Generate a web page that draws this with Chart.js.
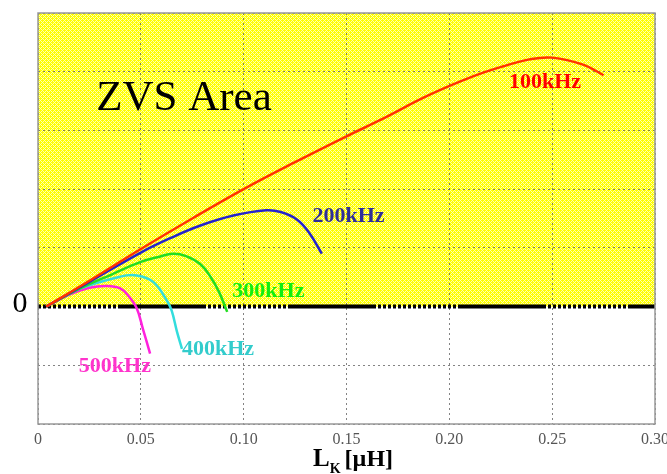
<!DOCTYPE html>
<html>
<head>
<meta charset="utf-8">
<script src="https://cdn.jsdelivr.net/npm/chart.js@4"></script>
<style>
  html, body { margin: 0; padding: 0; background: #fff; }
  #wrap { width: 667px; height: 474px; }
</style>
</head>
<body>
<div id="wrap"><canvas id="zvsChart" width="667" height="474"></canvas></div>
<script>
// leakage inductance L_K [uH] vs. ZVS margin, one curve per switching frequency
const lk100 = [0.004, 0.025, 0.05, 0.075, 0.1, 0.125, 0.15, 0.166, 0.19, 0.2115, 0.226, 0.239, 0.25, 0.265, 0.275];
const zvs100 = [0, 0.44, 0.98, 1.5, 2.0, 2.46, 2.9, 3.17, 3.6, 3.92, 4.09, 4.21, 4.24, 4.12, 3.94];

const lk200 = [0.004, 0.025, 0.05, 0.064, 0.079, 0.095, 0.111, 0.118, 0.126, 0.132, 0.138];
const zvs200 = [0, 0.42, 0.92, 1.16, 1.38, 1.55, 1.64, 1.61, 1.48, 1.25, 0.9];

const lk300 = [0.004, 0.02, 0.036, 0.05, 0.059, 0.0656, 0.072, 0.079, 0.084, 0.088, 0.092];
const zvs300 = [0, 0.3, 0.55, 0.76, 0.85, 0.9, 0.86, 0.72, 0.5, 0.25, -0.09];

const lk400 = [0.004, 0.02, 0.04, 0.048, 0.056, 0.0627, 0.065, 0.0676, 0.07];
const zvs400 = [0, 0.3, 0.51, 0.53, 0.42, 0.1, -0.07, -0.43, -0.72];

const lk500 = [0.004, 0.015, 0.025, 0.0335, 0.04, 0.044, 0.048, 0.051, 0.0545];
const zvs500 = [0, 0.2, 0.32, 0.35, 0.31, 0.18, -0.03, -0.38, -0.8];

const freqLabels = ["100kHz", "200kHz", "300kHz", "400kHz", "500kHz"];
const xTicks = [0, 0.05, 0.1, 0.15, 0.2, 0.25, 0.3];

const toPoints = (xs, ys) => xs.map((x, i) => ({ x: x, y: ys[i] }));

// the zero line alternates between a dotted run and a solid run
const zeroDash = [];
for (let i = 0; i < 16; i++) zeroDash.push(3, 2);
zeroDash.push(88, 2);

// yellow crosshatch for the ZVS region
const hatch = document.createElement("canvas");
hatch.width = 4;
hatch.height = 4;
const hctx = hatch.getContext("2d");
hctx.fillStyle = "#ffff00";
hctx.fillRect(0, 0, 4, 4);
hctx.fillStyle = "#ffffb0";
for (let x = 0; x < 4; x++) {
  for (let y = 0; y < 4; y++) {
    if ((x + y) % 4 === 0 || (x - y + 4) % 4 === 0) hctx.fillRect(x, y, 1, 1);
  }
}

const serif = '"Liberation Serif", "DejaVu Serif", serif';

const zvsDecor = {
  id: "zvsDecor",
  beforeDraw(chart) {
    const { ctx, chartArea: a, scales } = chart;
    ctx.save();
    ctx.fillStyle = "#fff";
    ctx.fillRect(0, 0, chart.width, chart.height);
    const y0 = scales.y.getPixelForValue(0);
    ctx.fillStyle = ctx.createPattern(hatch, "repeat");
    ctx.fillRect(a.left, a.top, a.right - a.left, y0 - a.top);
    ctx.restore();
  },
  afterDraw(chart) {
    const { ctx, chartArea: a, scales } = chart;
    const px = v => scales.x.getPixelForValue(v);
    const py = v => scales.y.getPixelForValue(v);
    ctx.save();

    // frame
    ctx.strokeStyle = "#999";
    ctx.lineWidth = 1.5;
    ctx.strokeRect(a.left, a.top, a.right - a.left, a.bottom - a.top);

    // curve labels
    const tags = [
      { text: freqLabels[0], x: 0.2465, y: 3.82, color: "#ff0000" },
      { text: freqLabels[1], x: 0.151, y: 1.53, color: "#2e2e99" },
      { text: freqLabels[2], x: 0.112, y: 0.26, color: "#11ee11" },
      { text: freqLabels[3], x: 0.0875, y: -0.72, color: "#33cccc" },
      { text: freqLabels[4], x: 0.0374, y: -1.02, color: "#ff33cc" },
    ];
    ctx.textAlign = "center";
    ctx.textBaseline = "middle";
    ctx.font = "bold 22px " + serif;
    tags.forEach(t => {
      ctx.fillStyle = t.color;
      ctx.fillText(t.text, px(t.x), py(t.y));
    });

    ctx.fillStyle = "#000";
    ctx.font = "43px " + serif;
    ctx.fillText("ZVS Area", px(0.071), py(3.54));

    ctx.font = "30px " + serif;
    ctx.fillText("0", 20, py(0) - 2);

    // axis title L_K [uH]
    ctx.textAlign = "left";
    ctx.textBaseline = "alphabetic";
    ctx.font = "bold 25px " + serif;
    let x = 313;
    ctx.fillText("L", x, 466);
    x += ctx.measureText("L").width;
    ctx.font = "bold 14px " + serif;
    ctx.fillText("K", x, 473);
    x += ctx.measureText("K").width + 4;
    ctx.font = "bold 24px " + serif;
    ctx.fillText("[µH]", x, 466);
    ctx.restore();
  },
};

const curve = (label, xs, ys, color) => ({
  label: label,
  data: toPoints(xs, ys),
  borderColor: color,
  borderWidth: 2.5,
  pointRadius: 0,
  showLine: true,
  tension: 0.4,
  order: 0,
});

new Chart(document.getElementById("zvsChart"), {
  type: "scatter",
  data: {
    datasets: [
      curve(freqLabels[0], lk100, zvs100, "#ff3300"),
      curve(freqLabels[1], lk200, zvs200, "#2424cc"),
      curve(freqLabels[2], lk300, zvs300, "#22dd22"),
      curve(freqLabels[3], lk400, zvs400, "#33dddd"),
      curve(freqLabels[4], lk500, zvs500, "#ff22dd"),
      {
        label: "zero",
        data: toPoints([0, 0.3], [0, 0]),
        borderColor: "#000",
        borderWidth: 4,
        borderDash: zeroDash,
        pointRadius: 0,
        showLine: true,
        order: 10,
      },
    ],
  },
  options: {
    responsive: false,
    animation: false,
    devicePixelRatio: 1,
    layout: { padding: { left: 0, top: 13, right: 12, bottom: 0 } },
    plugins: { legend: { display: false }, tooltip: { enabled: false } },
    scales: {
      x: {
        type: "linear",
        min: 0,
        max: 0.3,
        afterBuildTicks: scale => {
          scale.ticks = xTicks.map(v => ({ value: v }));
        },
        ticks: {
          callback: v => (v === 0 ? "0" : v.toFixed(2)),
          font: { family: serif, size: 16 },
          color: "#555",
          padding: 6,
          maxRotation: 0,
        },
        grid: { color: "rgba(90,90,90,0.75)", lineWidth: 1, drawTicks: false },
        border: { display: false, dash: [2, 3] },
        afterFit: scale => {
          scale.height = 50;
          scale.paddingLeft = 0;
          scale.paddingRight = 0;
        },
      },
      y: {
        type: "linear",
        min: -2,
        max: 5,
        ticks: { stepSize: 1, display: false },
        grid: { color: "rgba(90,90,90,0.75)", lineWidth: 1, drawTicks: false },
        border: { display: false, dash: [2, 3] },
        afterFit: scale => {
          scale.width = 38;
        },
      },
    },
  },
  plugins: [zvsDecor],
});
</script>
</body>
</html>
